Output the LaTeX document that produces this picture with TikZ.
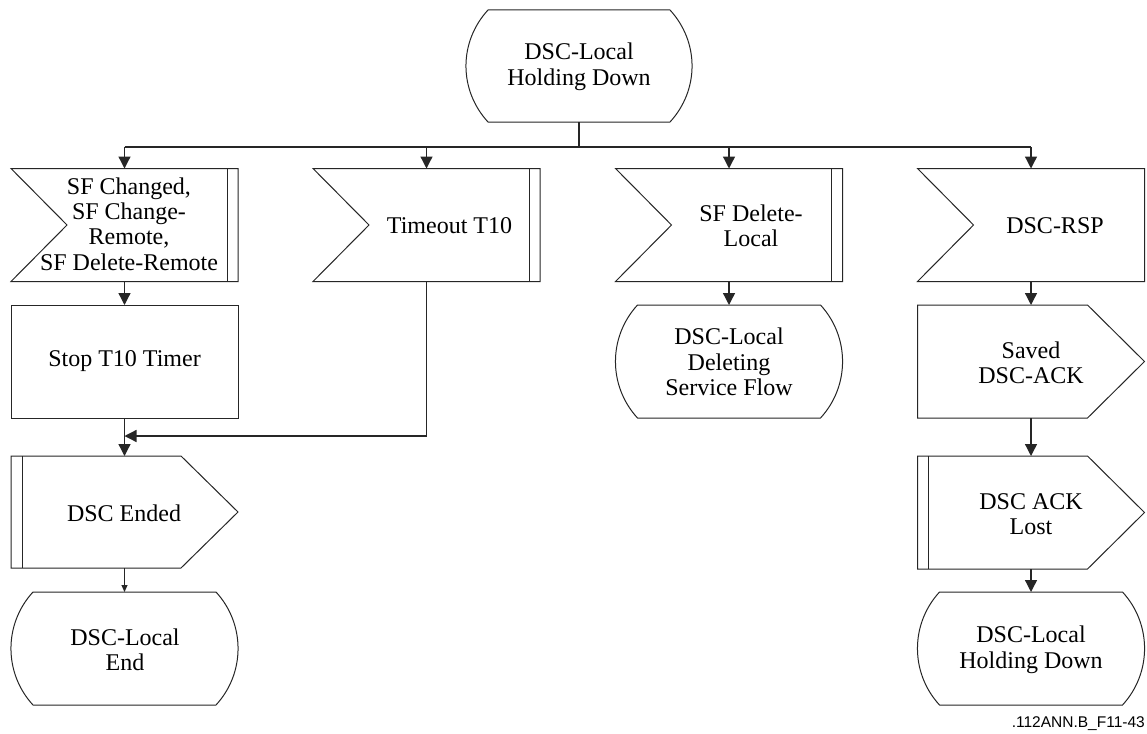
\documentclass[tikz,border=0pt]{standalone}
\usepackage{fontspec}
\setmainfont{Liberation Serif}
\newfontfamily\figlabelfont{Liberation Sans}
\usetikzlibrary{arrows.meta,calc}
\tikzset{
  box/.style={draw=none, minimum width=227pt, minimum height=113pt, inner sep=0pt, outer sep=0pt},
  txt/.style={align=center, inner sep=0pt, font=\fontsize{24}{25.5}\selectfont},
  outline/.style={line width=1pt, draw=black!85},
  conn/.style={line width=1.3pt, draw=black!85, -{Triangle[length=12pt,width=12pt]}},
  smallconn/.style={line width=1pt, draw=black!85, -{Triangle[length=7pt,width=6pt]}},
  wire/.style={line width=1.3pt, draw=black!85},
}
\newcommand\stateoutline[1]{\draw[outline] ($(#1.north west)+(22,0)$) -- ($(#1.north east)+(-22,0)$) .. controls ($(#1.north east)+(7.4,32)$) and ($(#1.south east)+(7.4,-32)$) .. ($(#1.south east)+(-22,0)$) -- ($(#1.south west)+(22,0)$) .. controls ($(#1.south west)+(-7.4,-32)$) and ($(#1.north west)+(-7.4,32)$) .. cycle;}
\newcommand\inputoutline[1]{\draw[outline] (#1.north west) -- (#1.north east) -- (#1.south east) -- (#1.south west) -- ($(#1.west)+(56,0)$) -- cycle;}
\newcommand\myRbar[1]{\draw[outline] ($(#1.north east)+(-11,0)$) -- ($(#1.south east)+(-11,0)$);}
\newcommand\outputoutline[1]{\draw[outline] (#1.north west) -- ($(#1.north east)+(-57,0)$) -- (#1.east) -- ($(#1.south east)+(-57,0)$) -- (#1.south west) -- cycle;}
\newcommand\myLbar[1]{\draw[outline] ($(#1.north west)+(11,0)$) -- ($(#1.south west)+(11,0)$);}
\begin{document}
\begin{tikzpicture}[x=1pt, y=-1pt]
\fill[white] (0,0) rectangle (1147,733);
\useasboundingbox (0,0) rectangle (1147,733);

% top state
\node[box, minimum width=226pt, minimum height=112pt] (s0) at (579,66) {};
\stateoutline{s0}
\node[txt] (s0t) at (579,67) {DSC-Local\\Holding Down};

% inputs
\node[box] (in1) at (124.5,225) {};
\inputoutline{in1}\myRbar{in1}
\node[txt, font=\fontsize{24}{25.3}\selectfont] (in1t) at (129,224) {SF Changed,\\SF Change-\\Remote,\\SF Delete-Remote};

\node[box] (in2) at (426.5,225) {};
\inputoutline{in2}\myRbar{in2}
\node[txt] (in2t) at (449.5,226) {Timeout T10};

\node[box] (in3) at (729,225) {};
\inputoutline{in3}\myRbar{in3}
\node[txt] (in3t) at (751,226) {SF Delete-\\Local};

\node[box] (in4) at (1031,225) {};
\inputoutline{in4}
\node[txt] (in4t) at (1055,226) {DSC-RSP};

% left column
\node[box] (task) at (124.5,361.5) {};
\draw[outline] (task.north west) rectangle (task.south east);
\node[txt] (taskt) at (124.5,361.5) {Stop T10 Timer};

\node[box, minimum height=112pt] (ended) at (124.5,512) {};
\outputoutline{ended}\myLbar{ended}
\node[txt] (endedt) at (124,513) {DSC Ended};

\node[box] (send) at (124.5,648.5) {};
\stateoutline{send}
\node[txt] (sendt) at (125,650) {DSC-Local\\End};

% middle column
\node[box] (sdel) at (729,361.5) {};
\stateoutline{sdel}
\node[txt] (sdelt) at (729,362) {DSC-Local\\Deleting\\Service Flow};

% right column
\node[box] (saved) at (1031,361.5) {};
\outputoutline{saved}
\node[txt] (savedt) at (1031,363) {Saved\\DSC-ACK};

\node[box] (lost) at (1031,512.5) {};
\outputoutline{lost}\myLbar{lost}
\node[txt] (lostt) at (1031,514) {DSC ACK\\Lost};

\node[box] (shold) at (1031,648.5) {};
\stateoutline{shold}
\node[txt] (sholdt) at (1031,650) {DSC-Local\\Holding Down};

% connectors
\coordinate (bus) at (579,147);
\coordinate (merge) at (124.5,436);
\draw[wire] (s0.south) -- (bus);
\draw[wire] (bus -| in1.north) -- (bus -| in4.north);
\draw[conn] (bus -| in1.north) -- (in1.north);
\draw[conn] (bus -| in2.north) -- (in2.north);
\draw[conn] (bus -| in3.north) -- (in3.north);
\draw[conn] (bus -| in4.north) -- (in4.north);
\draw[conn] (in1.south) -- (task.north);
\draw[conn] (task.south) -- (ended.north);
\draw[conn] (in2.south) |- (merge);
\draw[smallconn] (ended.south) -- (send.north);
\draw[conn] (in3.south) -- (sdel.north);
\draw[conn] (in4.south) -- (saved.north);
\draw[conn] (saved.south) -- (lost.north);
\draw[conn] (lost.south) -- (shold.north);

\node[anchor=base east, inner sep=0pt, font=\figlabelfont\fontsize{15.5}{18}\selectfont] (figlabel) at (1145,727) {.112ANN.B\_F11-43};
\end{tikzpicture}
\end{document}
